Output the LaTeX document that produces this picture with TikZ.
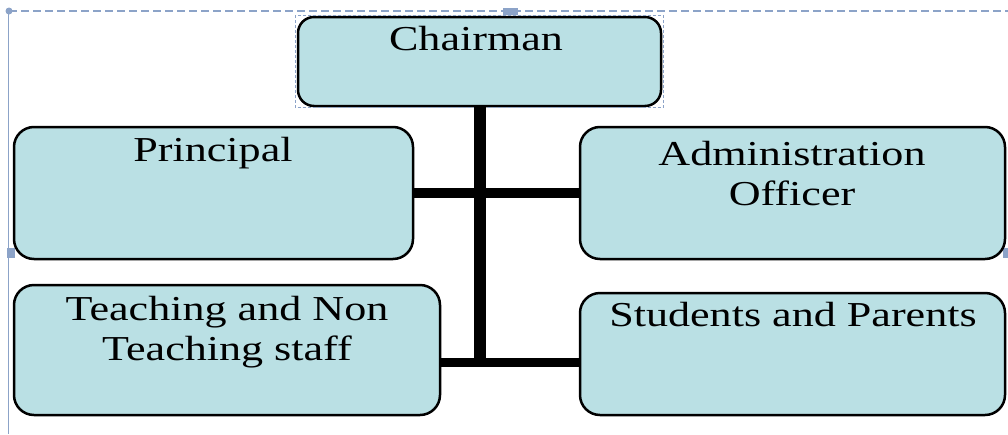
\documentclass[tikz,border=0pt]{standalone}
\usepackage{fontspec}
\setmainfont{Liberation Serif}[FakeStretch=1.26]

\newlength{\du}
\setlength{\du}{1pt}

\definecolor{boxfill}{RGB}{186,224,228}
\definecolor{selcolor}{RGB}{140,163,200}

\tikzset{
  orgbox/.style={draw=black, line width=2.5\du, fill=boxfill,
    rounded corners=20\du, inner sep=0pt},
  orgtext/.style={font=\fontsize{35}{40}\selectfont, align=center,
    anchor=base, inner sep=0pt},
  stem/.style={draw=black, line width=12\du},
  branch/.style={draw=black, line width=9.5\du},
  selframe/.style={draw=selcolor, line width=1.2\du, dash pattern=on 8\du off 4\du},
}

\begin{document}
\begin{tikzpicture}[yscale=-1]
\useasboundingbox (0\du,0\du) rectangle (1008\du,434\du);

% selection frame round the whole chart
\draw[selframe] (9\du,11\du)--(1008\du,11\du);
\draw[draw=selcolor, line width=1.5\du] (8.5\du,11\du)--(8.5\du,434\du);
\fill[selcolor] (9\du,11\du) circle (3.5\du);
\fill[selcolor] (503\du,8\du) rectangle (518\du,15\du);
\fill[selcolor] (7\du,248\du) rectangle (15\du,258\du);
\fill[selcolor] (1003\du,248\du) rectangle (1008\du,258\du);

% boxes
\node[orgbox, rounded corners=16\du, minimum width=363\du, minimum height=89\du]
  (chairman) at (479.5\du,61.5\du) {};
\node[orgbox, minimum width=399\du, minimum height=132\du]
  (principal) at (213.5\du,193\du) {};
\node[orgbox, minimum width=425\du, minimum height=132\du]
  (admin) at (792.5\du,193\du) {};
\node[orgbox, minimum width=426\du, minimum height=130\du]
  (teaching) at (227\du,350\du) {};
\node[orgbox, minimum width=425\du, minimum height=122\du]
  (students) at (792.5\du,354\du) {};

% selection frame round Chairman
\draw[draw=selcolor, line width=0.8\du, dash pattern=on 3\du off 2\du]
  (295\du,15\du) rectangle (663\du,107.5\du);

% labels (base = last line)
\node[orgtext] (chairmantext) at (476\du,50\du) {Chairman};
\node[orgtext] (principaltext) at (213\du,161\du) {Principal};
\node[orgtext] (admintext) at (792\du,205\du) {Administration\\Officer};
\node[orgtext] (teachingtext) at (227\du,360\du) {Teaching and Non\\Teaching staff};
\node[orgtext] (studentstext) at (793\du,326\du) {Students and Parents};

% connectors
\coordinate (lowjoin) at (479.5\du,362.5\du);
\coordinate (stemend) at (479.5\du,367\du);
\draw[stem] (chairman.south)--(stemend);
\draw[branch] (principal.east)--(admin.west);
\draw[branch] (teaching.east |- lowjoin)--(students.west |- lowjoin);
\end{tikzpicture}
\end{document}
